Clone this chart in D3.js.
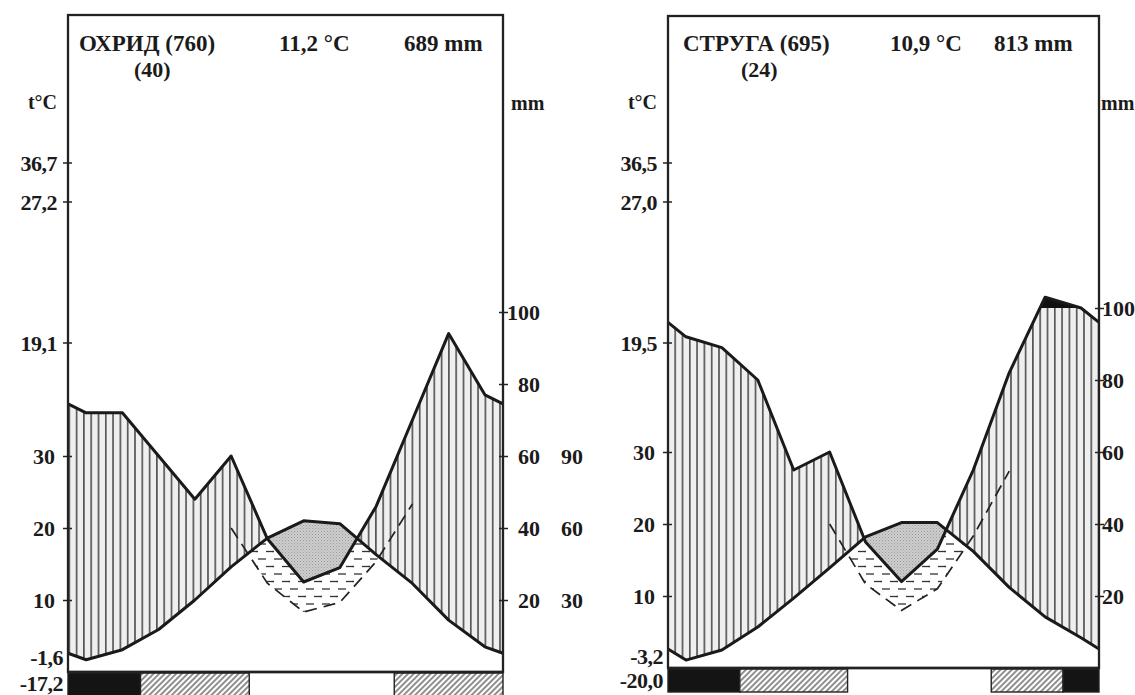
<!DOCTYPE html>
<html><head><meta charset="utf-8">
<script src="https://cdn.jsdelivr.net/npm/d3@7"></script>
<style>
body{margin:0;background:#fff}
svg{display:block}
text{font-family:"Liberation Serif","Times New Roman",serif;fill:#1b1b1b;font-weight:bold}
</style>
</head><body>
<svg id="c" width="1135" height="695"></svg>
<script>
// ---------- DATA ----------
const months = ["I","II","III","IV","V","VI","VII","VIII","IX","X","XI","XII"];
const ohridTemp = [1.7, 3.1, 5.9, 10.0, 14.6, 18.6, 21.0, 20.6, 16.3, 12.3, 7.2, 3.5];
const ohridPrec = [72, 72, 60, 48, 60, 37, 25, 29, 46, 70, 94, 77];
const ohridFrost = [2, 2, 1, 1, 1, 0, 0, 0, 0, 1, 1, 1];   // 2 = mean min < 0, 1 = abs. min < 0
const ohridTitle = ["ОХРИД (760)", "(40)", "11,2 °C", "689 mm"];
const ohridExtremes = ["36,7", "27,2", "19,1", "-1,6", "-17,2"];

const strugaTemp = [1.1, 2.5, 5.7, 9.7, 13.9, 18.2, 20.2, 20.2, 16.2, 11.2, 7.1, 4.2];
const strugaPrec = [92, 89, 80, 55, 60, 35, 24, 33, 55, 82, 103, 100];
const strugaFrost = [2, 2, 1, 1, 1, 0, 0, 0, 0, 1, 1, 2];
const strugaTitle = ["СТРУГА (695)", "(24)", "10,9 °C", "813 mm"];
const strugaExtremes = ["36,5", "27,0", "19,5", "-3,2", "-20,0"];

const tempTicks = [10, 20, 30];
const precTicks = [20, 40, 60, 80, 100];
const dryTicks = [30, 60, 90];
const unitLabels = ["t°C", "mm"];

// ---------- DRAWING ----------
const svg = d3.select("#c");
const defs = svg.append("defs");

const vh = defs.append("pattern").attr("id","vhatch").attr("patternUnits","userSpaceOnUse")
  .attr("width",7.3).attr("height",10);
vh.append("rect").attr("width",7.3).attr("height",10).attr("fill","#efefef");
vh.append("line").attr("x1",3.6).attr("x2",3.6).attr("y1",0).attr("y2",10)
  .attr("stroke","#222").attr("stroke-width",1.25);

const hd = defs.append("pattern").attr("id","hdash").attr("patternUnits","userSpaceOnUse")
  .attr("width",16).attr("height",15);
hd.append("line").attr("x1",2).attr("x2",10).attr("y1",4).attr("y2",4).attr("stroke","#333").attr("stroke-width",1.3);
hd.append("line").attr("x1",10).attr("x2",16).attr("y1",11.5).attr("y2",11.5).attr("stroke","#333").attr("stroke-width",1.3);
hd.append("line").attr("x1",0).attr("x2",2).attr("y1",11.5).attr("y2",11.5).attr("stroke","#333").attr("stroke-width",1.3);

const gs = defs.append("pattern").attr("id","grey").attr("patternUnits","userSpaceOnUse")
  .attr("width",3).attr("height",3);
gs.append("rect").attr("width",3).attr("height",3).attr("fill","#cdcdcd");
gs.append("rect").attr("x",0).attr("y",0).attr("width",1).attr("height",1).attr("fill","#9c9c9c");
gs.append("rect").attr("x",1.5).attr("y",1.5).attr("width",1).attr("height",1).attr("fill","#ababab");

const dh = defs.append("pattern").attr("id","diag").attr("patternUnits","userSpaceOnUse")
  .attr("width",4).attr("height",4).attr("patternTransform","rotate(45)");
dh.append("rect").attr("width",4).attr("height",4).attr("fill","#fff");
dh.append("line").attr("x1",1).attr("x2",1).attr("y1",0).attr("y2",4).attr("stroke","#333").attr("stroke-width",1.1);

function ext(arr){
  const e = (arr[0] + arr[arr.length-1]) / 2;
  return [{m:0,v:e}].concat(arr.map((v,i)=>({m:i+0.5,v:v})), [{m:12,v:e}]);
}

function panel(cfg){
  const g = svg.append("g");
  const id = cfg.id;
  const x = d3.scaleLinear().domain([0,12]).range([cfg.x0, cfg.x1]);
  const yT = d3.scaleLinear().domain([0,50]).range([cfg.base, cfg.base-360]);
  const yP = d3.scaleLinear().domain([0,100]).range([cfg.base, cfg.base-360]);

  const tP = ext(cfg.temp), pP = ext(cfg.prec), dP = ext(cfg.prec.map(p=>p/3));
  const ty = d=>yT(d.v), py = d=>yP(d.v), dy = d=>yT(d.v);
  const xx = d=>x(d.m);

  const above = f=>d3.area().x(xx).y0(0).y1(f);
  const below = f=>d3.area().x(xx).y0(cfg.base).y1(f);

  const mk = (name, dstr)=>{ defs.append("clipPath").attr("id",id+name).append("path").attr("d",dstr); return "url(#"+id+name+")"; };
  const cAboveT = mk("aT", above(ty)(tP));
  const cAboveP = mk("aP", above(py)(pP));
  const cAboveD = mk("aD", above(dy)(dP));
  defs.append("clipPath").attr("id",id+"a100").append("rect")
    .attr("x",cfg.x0).attr("y",0).attr("width",cfg.x1-cfg.x0).attr("height",yP(100));

  g.append("path").attr("d",below(ty)(tP)).attr("fill","url(#hdash)").attr("clip-path",cAboveD);
  g.append("path").attr("d",below(ty)(tP)).attr("fill","url(#grey)").attr("clip-path",cAboveP);
  g.append("path").attr("d",below(py)(pP)).attr("fill","url(#vhatch)").attr("clip-path",cAboveT);
  g.append("path").attr("d",below(py)(pP)).attr("fill","#111").attr("clip-path","url(#"+id+"a100)");

  g.append("path").attr("d",d3.line().x(xx).y(dy)(dP.slice(5,11)))
    .attr("fill","none").attr("stroke","#222").attr("stroke-width",1.7).attr("stroke-dasharray","12,7");

  g.append("path").attr("d",d3.line().x(xx).y(ty)(tP))
    .attr("fill","none").attr("stroke","#1a1a1a").attr("stroke-width",3).attr("stroke-linejoin","round");
  g.append("path").attr("d",d3.line().x(xx).y(py)(pP))
    .attr("fill","none").attr("stroke","#1a1a1a").attr("stroke-width",3).attr("stroke-linejoin","round");

  g.append("rect").attr("x",cfg.x0).attr("y",cfg.top).attr("width",cfg.x1-cfg.x0).attr("height",cfg.base-cfg.top)
    .attr("fill","none").attr("stroke","#222").attr("stroke-width",2.3);

  const runs = [];
  cfg.frost.forEach((f,i)=>{
    if(runs.length && runs[runs.length-1].f===f) runs[runs.length-1].e=i+1;
    else runs.push({f:f,s:i,e:i+1});
  });
  g.selectAll(".bar").data(runs.filter(r=>r.f>0)).enter().append("rect")
    .attr("x",r=>x(r.s)).attr("width",r=>x(r.e)-x(r.s))
    .attr("y",cfg.base+1).attr("height",23)
    .attr("fill",r=>r.f===2?"#141414":"url(#diag)")
    .attr("stroke","#222").attr("stroke-width",1.4);
  g.append("line").attr("x1",cfg.x0).attr("x2",cfg.x1).attr("y1",cfg.base).attr("y2",cfg.base)
    .attr("stroke","#222").attr("stroke-width",2.4);

  const la = g.append("g").attr("transform",`translate(${cfg.x0},0)`)
    .call(d3.axisLeft(yT).tickValues(tempTicks).tickSize(5).tickPadding(8).tickFormat(d3.format("d")));
  la.select(".domain").remove();
  la.selectAll("line").attr("x1",4).attr("stroke","#222").attr("stroke-width",1.5);
  la.selectAll("text").attr("font-size",22).attr("font-family",null).attr("fill","#1b1b1b");

  const ra = g.append("g").attr("transform",`translate(${cfg.x1},0)`)
    .call(d3.axisRight(yP).tickValues(precTicks).tickSize(5).tickPadding(4).tickFormat(d3.format("d")));
  ra.select(".domain").remove();
  ra.selectAll("line").attr("x1",-4).attr("stroke","#222").attr("stroke-width",1.5);
  ra.selectAll("text").attr("font-size",22).attr("font-family",null).attr("fill","#1b1b1b");
  if(cfg.rightEnd){ ra.selectAll("text").attr("text-anchor","end").attr("x",37); }
  else { ra.selectAll("text").attr("x",3); }

  if(cfg.dry){
    const da = g.append("g").attr("transform",`translate(${cfg.x1},0)`)
      .call(d3.axisRight(yT).tickValues(dryTicks.map(v=>v/3)).tickSize(0).tickPadding(0)
        .tickFormat((d,i)=>dryTicks[i]));
    da.select(".domain").remove();
    da.selectAll("text").attr("font-size",22).attr("font-family",null).attr("fill","#1b1b1b")
      .attr("text-anchor","end").attr("x",80);
  }

  const extY = cfg.extY;
  cfg.extremes.forEach((s,i)=>{
    const lower = i>=3;
    g.append("text").attr("x", cfg.x0 - (lower?5:11)).attr("y", extY[i]+8)
      .attr("text-anchor","end").attr("font-size",22).attr("letter-spacing",-0.5).text(s);
    if(!lower) g.append("line").attr("x1",cfg.x0-5).attr("x2",cfg.x0+4).attr("y1",extY[i]).attr("y2",extY[i])
      .attr("stroke","#222").attr("stroke-width",1.5);
  });
  g.append("text").attr("x",cfg.x0-11).attr("y",109).attr("text-anchor","end").attr("font-size",20).text(unitLabels[0]);
  g.append("text").attr("x",cfg.x1+cfg.mmDx).attr("y",110).attr("font-size",20).text(unitLabels[1]);

  const tx = cfg.titleX;
  g.append("text").attr("x",tx[0]).attr("y",51).attr("font-size",23).text(cfg.title[0]);
  g.append("text").attr("x",tx[1]).attr("y",77).attr("font-size",22).text(cfg.title[1]);
  g.append("text").attr("x",tx[2]).attr("y",51).attr("font-size",23).text(cfg.title[2]);
  g.append("text").attr("x",tx[3]).attr("y",51).attr("font-size",23).text(cfg.title[3]);
}

panel({id:"oh", x0:68, x1:503, top:15, base:672, temp:ohridTemp, prec:ohridPrec, frost:ohridFrost,
  title:ohridTitle, extremes:ohridExtremes, extY:[163,202,343,657,683], dry:true, rightEnd:true, mmDx:8,
  titleX:[79,134,279,404]});
panel({id:"st", x0:668, x1:1099, top:16, base:668, temp:strugaTemp, prec:strugaPrec, frost:strugaFrost,
  title:strugaTitle, extremes:strugaExtremes, extY:[163,202,343,656,680], dry:false, rightEnd:false, mmDx:2,
  titleX:[683,741,890,994]});
</script>
</body></html>
